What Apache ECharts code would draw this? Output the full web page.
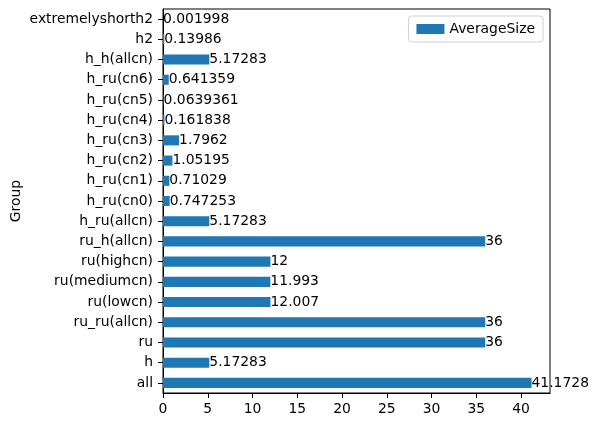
<!DOCTYPE html>
<html>
<head>
<meta charset="utf-8">
<script src="https://cdn.jsdelivr.net/npm/echarts@6/dist/echarts.min.js"></script>
<style>
  body { margin: 0; background: #fff; }
  #box { width: 598px; height: 428px; }
</style>
</head>
<body>
<div id="box"></div>
<script>
  // bottom to top, like the picture
  const groups = ['all', 'h', 'ru', 'ru_ru(allcn)', 'ru(lowcn)', 'ru(mediumcn)', 'ru(highcn)', 'ru_h(allcn)',
    'h_ru(allcn)', 'h_ru(cn0)', 'h_ru(cn1)', 'h_ru(cn2)', 'h_ru(cn3)', 'h_ru(cn4)', 'h_ru(cn5)', 'h_ru(cn6)',
    'h_h(allcn)', 'h2', 'extremelyshorth2']
  const averageSize = [41.1728, 5.17283, 36, 36, 12.007, 11.993, 12, 36,
    5.17283, 0.747253, 0.71029, 1.05195, 1.7962, 0.161838, 0.0639361, 0.641359,
    5.17283, 0.13986, 0.001998]
  const xTicks = [0, 5, 10, 15, 20, 25, 30, 35, 40]

  const font = 'DejaVu Sans'
  let myChart = echarts.init(document.getElementById('box'))
  let option = {
    animation: false,
    textStyle: { fontFamily: font },
    grid: {
      left: 163, right: 48, top: 9, bottom: 35,
      outerBoundsMode: 'none',
      containLabel: false,
      show: true, borderColor: '#000', borderWidth: 1, backgroundColor: 'transparent'
    },
    legend: {
      right: 55, top: 16,
      padding: [6, 8],
      itemWidth: 28, itemHeight: 10,
      itemGap: 10,
      borderColor: '#d0d0d0', borderWidth: 1, borderRadius: 3,
      backgroundColor: '#fff',
      textStyle: { fontFamily: font, fontSize: 13.9, color: '#000' },
      icon: 'rect',
      data: ['AverageSize']
    },
    xAxis: {
      type: 'value',
      min: 0,
      max: 43.2364,
      axisLine: { show: true, lineStyle: { color: '#000' } },
      axisTick: { show: true, length: 5, lineStyle: { color: '#000' },
        customValues: xTicks },
      axisLabel: { color: '#000', fontSize: 13.9, fontFamily: font, margin: 9,
        customValues: xTicks },
      splitLine: { show: false }
    },
    yAxis: {
      type: 'category',
      data: groups,
      name: 'Group',
      nameLocation: 'middle',
      nameGap: 140,
      nameMoveOverlap: false,
      nameTextStyle: { color: '#000', fontSize: 13.9, fontFamily: font },
      axisLine: { show: true, lineStyle: { color: '#000' } },
      axisTick: { show: true, alignWithLabel: true, length: 5, lineStyle: { color: '#000' } },
      axisLabel: { color: '#000', fontSize: 13.9, fontFamily: font, margin: 10, interval: 0 }
    },
    series: [
      {
        name: 'AverageSize',
        type: 'bar',
        data: averageSize,
        barWidth: '50%',
        itemStyle: { color: '#1f77b4' },
        label: {
          show: true,
          position: 'right',
          distance: 0,
          color: '#000',
          fontSize: 13.9,
          fontFamily: font,
          formatter: (p) => String(p.value)
        }
      }
    ]
  }
  myChart.setOption(option)
</script>
</body>
</html>
